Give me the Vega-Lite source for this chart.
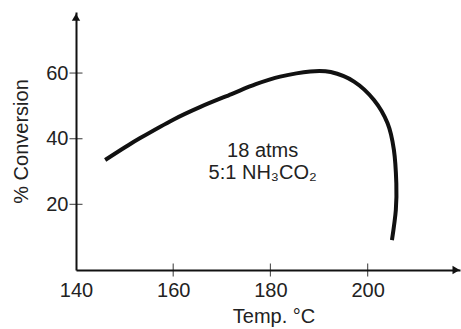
{
  "$schema": "https://vega.github.io/schema/vega-lite/v6.json",
  "autosize": "none",
  "width": 384,
  "height": 258,
  "padding": {"left": 76, "top": 12, "right": 1, "bottom": 59},
  "background": "white",
  "config": {
    "view": {"stroke": null},
    "font": "Liberation Sans",
    "axis": {"grid": false, "domainColor": "#111", "domainWidth": 2, "ticks": false, "tickSize": 0, "labelFlush": false, "labelFont": "Liberation Sans", "labelFontSize": 20, "labelColor": "#222", "titleFont": "Liberation Sans", "titleFontSize": 20, "titleFontWeight": "normal", "titleColor": "#222"}
  },
  "datasets": {
    "curve": [
      {"i": 1, "temp": 146.0, "conv": 33.5},
      {"i": 2, "temp": 150.0, "conv": 37.3},
      {"i": 3, "temp": 153.2, "conv": 40.2},
      {"i": 4, "temp": 160.0, "conv": 45.8},
      {"i": 5, "temp": 165.6, "conv": 49.7},
      {"i": 6, "temp": 172.0, "conv": 53.6},
      {"i": 7, "temp": 177.0, "conv": 56.6},
      {"i": 8, "temp": 182.0, "conv": 58.9},
      {"i": 9, "temp": 188.2, "conv": 60.5},
      {"i": 10, "temp": 192.4, "conv": 60.3},
      {"i": 11, "temp": 197.2, "conv": 57.4},
      {"i": 12, "temp": 201.3, "conv": 51.8},
      {"i": 13, "temp": 204.1, "conv": 44.7},
      {"i": 14, "temp": 205.4, "conv": 36.6},
      {"i": 15, "temp": 205.9, "conv": 26.4},
      {"i": 16, "temp": 205.8, "conv": 18.3},
      {"i": 17, "temp": 205.0, "conv": 9.1}
    ],
    "xticks": [{"v": 160}, {"v": 180}, {"v": 200}],
    "yticks": [{"v": 20}, {"v": 40}, {"v": 60}],
    "notes": [
      {"temp": 178.4, "conv": 34.4, "label": "18 atms"},
      {"temp": 178.4, "conv": 27.7, "label": "5:1 NH₃CO₂"}
    ]
  },
  "layer": [
    {
      "data": {"name": "curve"},
      "mark": {"type": "line", "interpolate": "cardinal", "color": "#111", "strokeWidth": 4, "strokeCap": "butt"},
      "encoding": {
        "x": {"field": "temp", "type": "quantitative", "scale": {"domain": [140, 219], "nice": false, "zero": false},
          "axis": {"values": [140, 160, 180, 200], "title": "Temp. °C", "labelPadding": 10, "titlePadding": 6, "titleX": 197.5}},
        "y": {"field": "conv", "type": "quantitative", "scale": {"domain": [0, 78.6], "nice": false},
          "axis": {"values": [20, 40, 60], "title": "% Conversion", "labelPadding": 8, "titlePadding": 14}},
        "order": {"field": "i"}
      }
    },
    {
      "data": {"name": "xticks"},
      "mark": {"type": "tick", "orient": "vertical", "color": "#111", "size": 13, "thickness": 1.2},
      "encoding": {"x": {"field": "v", "type": "quantitative"}, "y": {"datum": 0}}
    },
    {
      "data": {"name": "yticks"},
      "mark": {"type": "tick", "orient": "horizontal", "color": "#111", "size": 13, "thickness": 1.2},
      "encoding": {"y": {"field": "v", "type": "quantitative"}, "x": {"datum": 140}}
    },
    {
      "data": {"name": "notes"},
      "mark": {"type": "text", "fontSize": 20, "color": "#222", "font": "Liberation Sans", "baseline": "alphabetic"},
      "encoding": {"x": {"field": "temp", "type": "quantitative"}, "y": {"field": "conv", "type": "quantitative"}, "text": {"field": "label"}}
    },
    {
      "data": {"values": [{}]},
      "mark": {"type": "point", "shape": "triangle-right", "filled": true, "color": "#111", "size": 70, "opacity": 1},
      "encoding": {"x": {"datum": 218.2}, "y": {"datum": 0}}
    },
    {
      "data": {"values": [{}]},
      "mark": {"type": "point", "shape": "triangle-up", "filled": true, "color": "#111", "size": 70, "opacity": 1},
      "encoding": {"x": {"datum": 140}, "y": {"datum": 77.0}}
    }
  ]
}
